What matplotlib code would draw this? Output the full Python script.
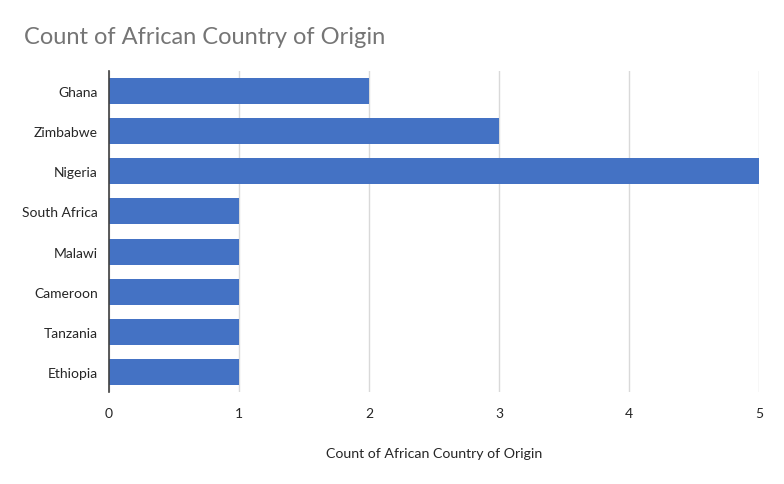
import matplotlib.pyplot as plt

plt.rcParams['font.family'] = ['Lato', 'DejaVu Sans']

countries = ["Ghana", "Zimbabwe", "Nigeria", "South Africa", "Malawi",
             "Cameroon", "Tanzania", "Ethiopia"]
counts = [2, 3, 5, 1, 1, 1, 1, 1]
x_ticks = [0, 1, 2, 3, 4, 5]

fig = plt.figure(figsize=(7.84, 4.85), dpi=100)
ax = fig.add_axes([109/784, 92/485, 650/784, 321/485])

ax.barh(countries, counts, height=0.65, color="#4472C4", zorder=3)

ax.set_xlim(0, 5)
ax.set_ylim(len(countries) - 0.5, -0.5)
ax.set_xticks(x_ticks)
ax.grid(axis="x", color="#D9D9D9", linewidth=1, zorder=0)
ax.tick_params(length=0, labelsize=10, colors="#262626", pad=8)
ax.tick_params(axis="x", pad=11)

for side in ["top", "right", "bottom"]:
    ax.spines[side].set_visible(False)
ax.spines["left"].set_color("#404040")
ax.spines["left"].set_linewidth(1.2)
ax.spines["left"].set_zorder(4)

ax.set_xlabel("Count of African Country of Origin", fontsize=10.2,
              color="#262626", labelpad=20)

fig.text(24/784, 1 - 38/485, "Count of African Country of Origin",
         fontsize=17, color="#757575", va="center", ha="left")

plt.savefig("out.png", dpi=100)
plt.close()
